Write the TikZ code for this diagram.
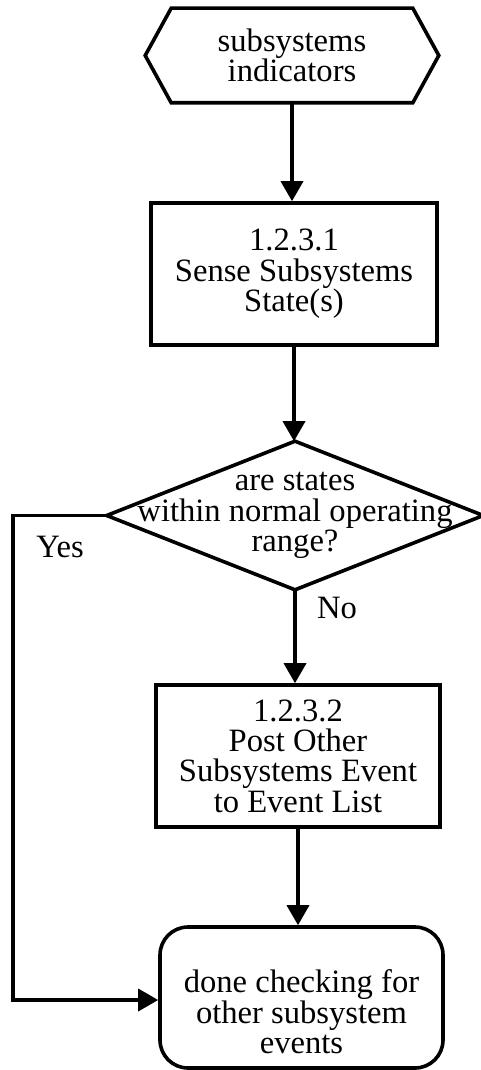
\documentclass[tikz,border=0pt]{standalone}
\usepackage{fontspec}
\setmainfont{Liberation Serif}
\usetikzlibrary{arrows.meta}
\begin{document}
\begin{tikzpicture}[x=0.5pt,y=-0.5pt,
  line width=1.8pt,
  every node/.style={font=\fontsize{16.3}{15.2}\selectfont, align=center, inner sep=0pt},
  arr/.style={-{Triangle[length=10pt,width=11pt]}},
  procbox/.style={draw, minimum width=143pt, minimum height=71pt},
  termbox/.style={draw, rounded corners=14pt, minimum width=141.5pt, minimum height=70.5pt}]
\useasboundingbox (0,0) rectangle (481,1070);

% display shape for the incoming indicators
\node[minimum width=145pt, minimum height=45.5pt] (ind) at (292,55.5) {subsystems\\indicators};
\draw (ind.west) -- ([xshift=13pt]ind.north west) -- ([xshift=-13pt]ind.north east)
  -- (ind.east) -- ([xshift=-13pt]ind.south east) -- ([xshift=13pt]ind.south west) -- cycle;

% process 1.2.3.1
\node[procbox] (b1) at (294,274) {1.2.3.1\\Sense Subsystems\\State(s)};

% decision
\node[minimum width=186.5pt, minimum height=72.5pt] (dia) at (295,515.5)
  {are states\\within normal operating\\range?};
\draw (dia.north) -- (dia.east) -- (dia.south) -- (dia.west) -- cycle;

% process 1.2.3.2
\node[procbox, minimum width=142pt] (b2) at (298,756)
  {1.2.3.2\\Post Other\\Subsystems Event\\to Event List};

% terminator
\node[termbox] (term) at (301.5,997.5) {};
\node (termtext) at (301.5,1012) {done checking for\\other subsystem\\events};

% connectors
\draw[arr] (ind.south) -- (ind.south |- b1.north);
\draw[arr] (b1.south) -- (b1.south |- dia.north);
\draw[arr] (dia.south) -- (dia.south |- b2.north);
\draw[arr] (b2.south) -- (b2.south |- term.north);
\coordinate (ybend) at (13,1000);
\draw[arr] (dia.west) -| (ybend) -- (term.west |- ybend);

% branch labels
\node (yes) at (60,547) {Yes};
\node (no) at (337,608) {No};
\end{tikzpicture}
\end{document}
